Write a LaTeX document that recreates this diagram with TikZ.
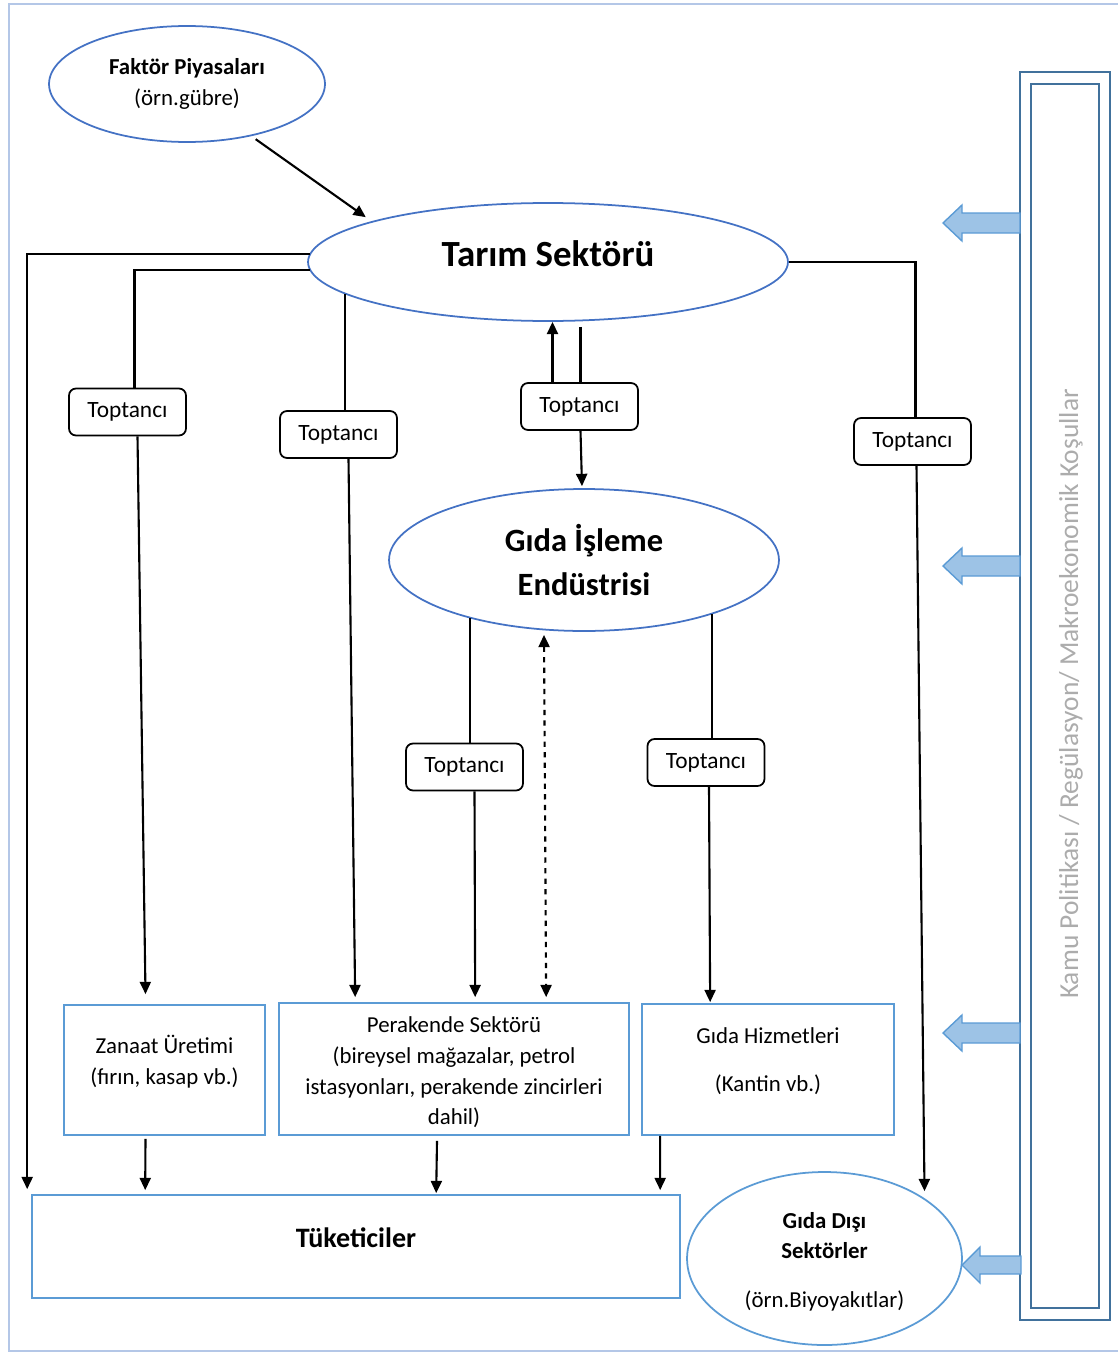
\documentclass[tikz,border=0pt]{standalone}
\usepackage{fontspec}
\setmainfont{Carlito}
\usetikzlibrary{arrows.meta,calc,shapes.geometric}
\definecolor{ellblue}{HTML}{4472C4}
\definecolor{boxblue}{HTML}{5B9BD5}
\definecolor{arrfill}{HTML}{9DC3E6}
\definecolor{barblue}{HTML}{41719C}
\definecolor{frameblue}{HTML}{B4C7E7}
\begin{document}
\begin{tikzpicture}[x=0.02cm,y=-0.02cm,
  every node/.style={font=\fontsize{13}{17.5}\selectfont},
  ell/.style={draw=ellblue,line width=1pt,ellipse,inner sep=0pt,align=center},
  box/.style={draw=boxblue,line width=1pt,rectangle,inner sep=0pt,align=center},
  tbox/.style={draw,line width=1pt,rounded corners=4pt,minimum width=2.34cm,minimum height=0.94cm,font=\fontsize{13.3}{15}\selectfont},
  txt/.style={align=center,yshift=0.17cm},
  conn/.style={line width=1.2pt},
  arr/.style={line width=1.2pt,-{Triangle[length=7pt,width=6.3pt]}},
  blockarr/.style={draw=boxblue,fill=arrfill,line width=0.8pt}]
  \useasboundingbox (0,0) rectangle (1117,1355);
  \draw[frameblue,line width=1pt] (9,4) rectangle (1122,1351);
  \node[ell,minimum width=5.52cm,minimum height=2.32cm] (faktor) at (187,84) {\textbf{Faktör Piyasaları}\\(örn.gübre)};
  \node[ell,minimum width=9.6cm,minimum height=2.36cm,label={[txt,font=\fontsize{21}{24}\selectfont\bfseries]center:Tarım Sektörü}] (tarim) at (548,262) {};
  \node[ell,minimum width=7.8cm,minimum height=2.84cm,font=\fontsize{18.5}{25}\selectfont\bfseries] (gida) at (584,560) {Gıda İşleme\\Endüstrisi};
  \node[ell,draw=boxblue,minimum width=5.5cm,minimum height=3.46cm,label={[align=center,yshift=-0.06cm]center:{\textbf{Gıda Dışı}\\\textbf{Sektörler}\\[10pt](örn.Biyoyakıtlar)}}] (gidadisi) at (824.5,1258.5) {};
  \node[tbox] (t1) at (127.5,412) {Toptancı};
  \node[tbox] (t2) at (338.5,434.5) {Toptancı};
  \node[tbox] (t3) at (579.5,406.5) {Toptancı};
  \node[tbox] (t4) at (912.5,441.5) {Toptancı};
  \node[tbox] (t5) at (464.5,767) {Toptancı};
  \node[tbox] (t6) at (706,762.5) {Toptancı};
  \node[box,minimum width=4.02cm,minimum height=2.6cm,label={[txt]center:{Zanaat Üretimi\\(fırın, kasap vb.)}}] (zanaat) at (164.5,1070) {};
  \node[box,minimum width=7cm,minimum height=2.64cm,label={[align=center,yshift=-0.07cm]center:{Perakende Sektörü\\(bireysel mağazalar, petrol\\istasyonları, perakende zincirleri\\dahil)}}] (perakende) at (454,1069) {};
  \node[box,minimum width=5.04cm,minimum height=2.62cm,label={[txt]center:{Gıda Hizmetleri\\[10pt](Kantin vb.)}}] (hizmet) at (768,1069.5) {};
  \node[box,minimum width=12.96cm,minimum height=2.06cm,label={[txt,font=\fontsize{16}{19}\selectfont\bfseries]center:Tüketiciler}] (tuketici) at (356,1246.5) {};
  \draw[barblue,line width=1.2pt] (1020,72) rectangle (1110,1320);
  \draw[barblue,line width=1.2pt] (1031,84) rectangle (1099,1308);
  \node[rotate=90,text=gray!65,font=\fontsize{15.6}{18}\selectfont] (policy) at (1071,694) {Kamu Politikası / Regülasyon/ Makroekonomik Koşullar};
  \foreach \ty in {223,566,1033}
    \draw[blockarr] (943,\ty) -- (962,\ty-18) -- (962,\ty-10) -- (1020,\ty-10) -- (1020,\ty+10) -- (962,\ty+10) -- (962,\ty+18) -- cycle;
  \draw[blockarr] (962,1265) -- (980,1247) -- (980,1256) -- (1021,1256) -- (1021,1274) -- (980,1274) -- (980,1283) -- cycle;
  \draw[arr,shorten <=3pt,shorten >=4pt] (faktor.-39) -- (tarim.167);
  \draw[arr] (tarim.178) -| ($(tuketici.north west)+(-4,-5)$);
  \draw[conn] (tarim.182) -| ($(t1.north)+(7,0)$);
  \draw[arr] ($(t1.south)+(10,0)$) -- ($(zanaat.north)+(-19,-10)$);
  \draw[conn] (tarim.189) -- (tarim.189 |- t2.north);
  \draw[arr] ($(t2.south)+(10,0)$) -- ($(perakende.north west)+(77,-5)$);
  \draw[arr] ($(t3.north)+(-27,0)$) -- ($(t3.north |- tarim.south)+(-27,0)$);
  \draw[conn] ($(t3.north |- tarim.south)+(1,5)$) -- ($(t3.north)+(1,0)$);
  \draw[arr] ($(t3.south)+(1,0)$) -- ($(gida.north)+(-2,-2)$);
  \draw[conn] (tarim.east) -| ($(t4.north)+(3,0)$);
  \draw[arr] ($(t4.south)+(4,0)$) -- ($(gidadisi.north)+(100,20)$);
  \draw[conn] (gida.207) -- (gida.207 |- t5.north);
  \draw[arr] ($(t5.south)+(10,0)$) -- ($(perakende.north west)+(197,-5)$);
  \draw[line width=1.2pt,dashed,{Triangle[length=7pt,width=6.3pt]}-{Triangle[length=7pt,width=6.3pt]}] ($(gida.south)+(-40,3)$) -- ($(perakende.north west)+(268,-5)$);
  \draw[conn] (gida.337) -- (gida.337 |- t6.north);
  \draw[arr] ($(t6.south)+(3,0)$) -- ($(hizmet.north west)+(69,-1)$);
  \draw[arr] ($(zanaat.south)+(-19,3)$) -- ($(tuketici.north west)+(114,-4)$);
  \draw[arr] ($(perakende.south)+(-17,5)$) -- ($(tuketici.north west)+(405,-1)$);
  \draw[arr] ($(hizmet.south west)+(19,0)$) -- ($(tuketici.north west)+(629,-4)$);
\end{tikzpicture}
\end{document}
